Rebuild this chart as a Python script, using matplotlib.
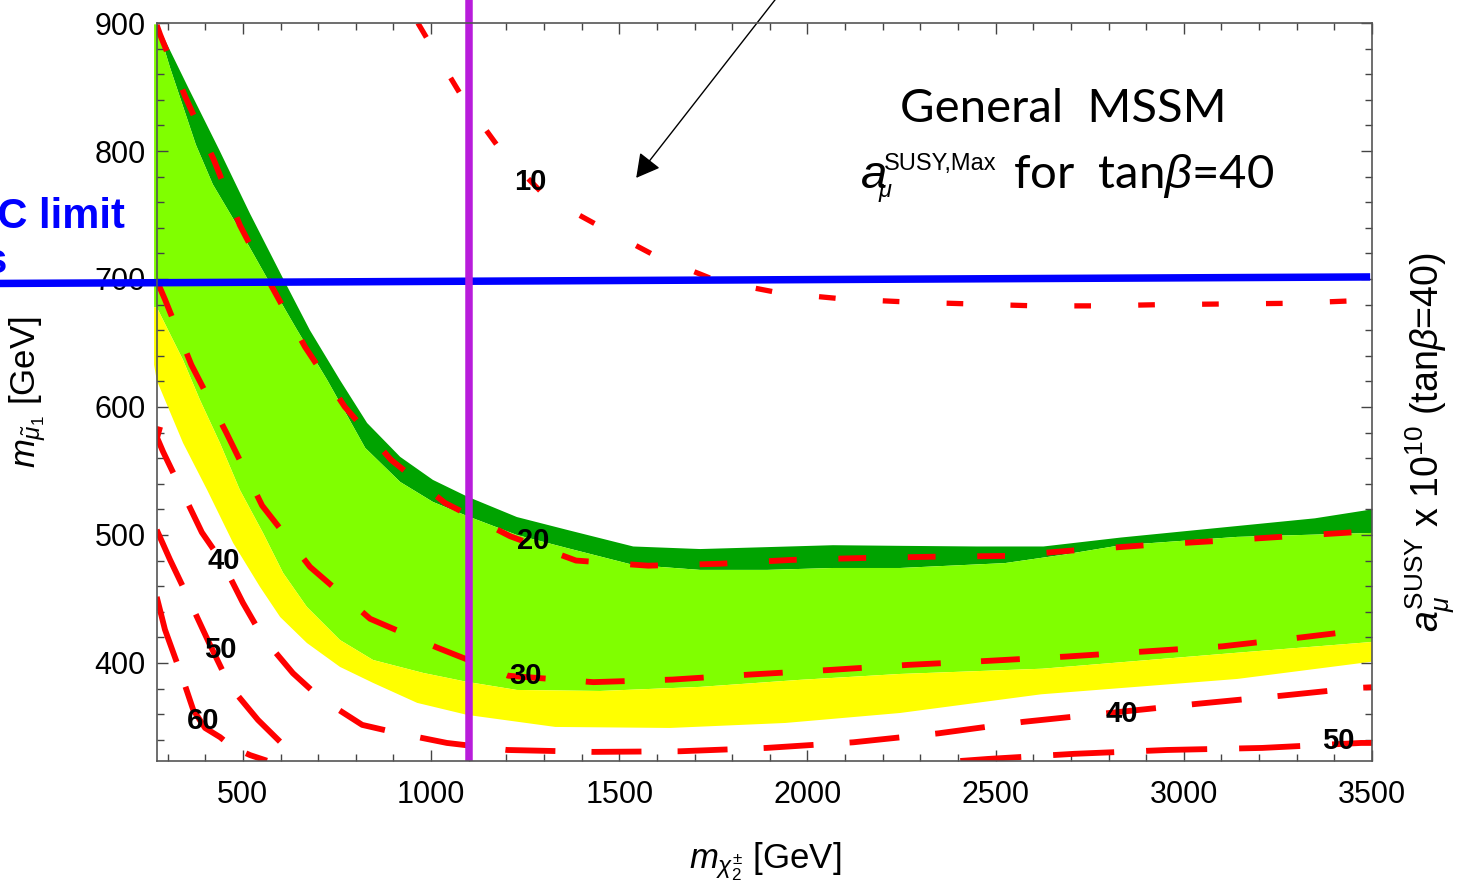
import matplotlib
matplotlib.use("Agg")
import matplotlib.pyplot as plt

plt.rcParams["font.family"] = ["Liberation Sans", "DejaVu Sans"]
plt.rcParams["mathtext.fontset"] = "custom"
plt.rcParams["mathtext.rm"] = "Liberation Sans"
plt.rcParams["mathtext.it"] = "Liberation Sans:italic"
plt.rcParams["mathtext.bf"] = "Liberation Sans:bold"
plt.rcParams["lines.scale_dashes"] = False

# ---- allowed bands (chargino mass, smuon mass) in GeV ----
dark_top_x = [271, 354, 437, 519, 604, 678, 758, 830, 918, 1005, 1096, 1228, 1361,
              1537, 1715, 1893, 2068, 2246, 2450, 2627, 2833, 3142, 3348, 3500]
dark_top_y = [900, 850, 801, 751, 702, 660, 621, 587.5, 561, 543, 530, 514, 504,
              491, 489, 490.5, 492, 491.5, 491, 491, 498, 507, 513, 520]

light_top_x = [271, 274.5, 306, 375, 420, 492, 567, 644, 724, 770, 825, 918, 1005,
               1096, 1228, 1361, 1537, 1715, 1893, 2068, 2246, 2524, 2678, 2833,
               3142, 3500]
light_top_y = [899, 896, 865.6, 805, 774, 738.3, 699.2, 660.2, 621.1, 597,
               568, 541.4, 525.8, 514.8, 500, 489.8, 476.6, 472.7, 472.7, 474.2,
               474.2, 478, 484.5, 492, 498.5, 501.6]

yellow_top_x = [271, 341, 386, 439, 492, 553.5, 607, 670, 758, 846, 979, 1096, 1228,
                1449, 1715, 1980, 2246, 2624, 3142, 3500]
yellow_top_y = [678, 636.7, 605.5, 571.9, 535.2, 501.6, 470.3, 443.8, 417.9, 402.3,
                392.2, 385.2, 378.9, 378.1, 381.3, 386.8, 391.4, 395.5, 408, 416.4]

yellow_bot_x = [271, 293, 341, 405, 474, 545.5, 599, 670, 758, 846, 963, 1096, 1330,
                1635, 1941, 2246, 2621, 3142, 3500]
yellow_bot_y = [621, 605.5, 571.9, 535.2, 493.8, 459.4, 435.9, 415.6, 396.9, 384.4,
                368.8, 359.4, 350, 349.2, 353.1, 360.9, 375.5, 387.5, 401]

# the scan region starts slightly left of the frame
scan_left_x = 264
scan_left_yellow_y = 633

# ---- contours of a_mu^SUSY x 10^10 ----
c10_x = [965, 1003, 1085, 1189, 1306, 1455, 1603, 1760, 1928, 2095, 2268, 2435,
         2605, 2775, 2945, 3116, 3286, 3454, 3500]
c10_y = [900, 881, 841, 799, 764, 740, 717, 698.5, 689, 684.4, 682, 680.5, 679, 679,
         680, 680.5, 681, 683, 683.5]

c20_x = [271, 280, 346, 423, 492, 577, 665, 771, 894, 1037, 1210, 1385, 1577, 1766,
         1957, 2146, 2334, 2525, 2711, 2900, 3092, 3283, 3500]
c20_y = [898.4, 891, 843, 793, 742, 694, 647, 600, 558.6, 525, 499, 480, 476, 477.5,
         480.5, 482, 483, 483.6, 488, 492, 495.4, 499, 503]

c30_x = [271, 293, 363, 455, 551, 678.5, 838, 1016, 1205, 1431, 1641, 1851, 2058,
         2268, 2478, 2688, 2898, 3103, 3313, 3500]
c30_y = [699, 684, 633, 580.5, 523, 475, 434.5, 412, 390, 385, 387, 391, 394.5,
         398.5, 401.6, 405, 409, 413, 420, 426.6]

c40_x = [280, 272, 288, 333, 391, 445, 500, 553, 633, 705, 817, 910, 1042, 1202,
         1431, 1662, 1891, 2122, 2348, 2574, 2805, 3033, 3259, 3461, 3500]
c40_y = [584.5, 576, 565, 537.5, 502, 479, 447, 420, 392, 372.7, 351.6, 345.3,
         337.5, 332, 330.5, 331, 333.6, 338, 345, 354, 361, 368, 374.4, 380.5, 381]

c50_left_x = [271, 306.5, 341, 408, 445, 485, 540, 599, 657]
c50_left_y = [504, 480.6, 459.4, 417, 394.5, 375, 355.5, 338.4, 323.6]
c50_right_x = [2406, 2480, 2709, 2956, 3208, 3471, 3500]
c50_right_y = [323.4, 325, 329, 332, 333.6, 337.5, 337.5]

c60_x = [271, 293, 341, 368, 399.5, 439.5, 471, 519, 564]
c60_y = [451.6, 426, 387, 363.4, 349.2, 342, 334.4, 328, 323.6]

contour_labels = ["10", "20", "30", "40", "50", "60", "40", "50"]
contour_label_x = [1263, 1272, 1252, 450, 440, 395, 2836, 3410]
contour_label_y = [776, 495, 389.6, 480, 410, 354.4, 360.3, 339]

# ---- LHC limits ----
chargino_limit = 1100
smuon_limit_x = [-160, 3495]
smuon_limit_y = [696.5, 701.6]

W, H = 1459, 889
fig = plt.figure(figsize=(W / 100, H / 100), dpi=100)
ax = fig.add_axes([0.1074, 0.1440, 0.8330, 0.8301])
ax.set_xlim(271, 3500)
ax.set_ylim(323.4, 900)


def fx(px):
    return px / W


def fy(py):
    return 1 - py / H


DARK = "#00A300"
LIGHT = "#80FF00"
YELLOW = "#FFFF00"

# bands drawn as closed polygons between boundaries
ax.fill(dark_top_x + light_top_x[::-1], dark_top_y + light_top_y[::-1],
        color=DARK, lw=0, zorder=1)
ax.fill(light_top_x + yellow_top_x[::-1] + [scan_left_x, scan_left_x],
        light_top_y + yellow_top_y[::-1] + [yellow_top_y[0], light_top_y[0]],
        color=LIGHT, lw=0, zorder=1, clip_on=False)
ax.fill(yellow_top_x + yellow_bot_x[::-1] + [scan_left_x, scan_left_x],
        yellow_top_y + yellow_bot_y[::-1] + [scan_left_yellow_y, yellow_top_y[0]],
        color=YELLOW, lw=0, zorder=1, clip_on=False)

RED = "#FF0000"
contours = [
    (c10_x, c10_y, (12, 34), 3.8),
    (c20_x, c20_y, (20, 30), 4.2),
    (c30_x, c30_y, (28, 29), 4.2),
    (c40_x, c40_y, (36, 26), 4.2),
    (c50_left_x, c50_left_y, (44, 23), 4.2),
    (c50_right_x, c50_right_y, (44, 23), 4.2),
    (c60_x, c60_y, (49, 19), 4.2),
]
for cx, cy, dash, lw in contours:
    ln, = ax.plot(cx, cy, color=RED, lw=lw, zorder=3)
    ln.set_dashes(dash)
    ln.set_dash_capstyle("butt")

for t, lx, ly in zip(contour_labels, contour_label_x, contour_label_y):
    ax.text(lx, ly, t, fontsize=21, fontweight="bold", color="black",
            ha="center", va="center", zorder=4)

# LHC limit lines extend beyond the frame
ax.plot(smuon_limit_x, smuon_limit_y, color="#0000FF", lw=5.4, zorder=5,
        clip_on=False, solid_capstyle="butt")
ax.plot([chargino_limit, chargino_limit], [323.4, 935], color="#B81CDB", lw=5.4,
        zorder=6, clip_on=False, solid_capstyle="butt")

ax.annotate("", xy=(1545, 779), xytext=(1956, 934),
            arrowprops=dict(arrowstyle="-|>,head_length=0.4,head_width=0.22",
                            color="black", lw=1.0, mutation_scale=36,
                            shrinkA=0, shrinkB=0),
            annotation_clip=False, zorder=7)

# axes styling
ax.set_xticks([500, 1000, 1500, 2000, 2500, 3000, 3500])
ax.set_xticks(range(300, 3500, 100), minor=True)
ax.set_yticks([400, 500, 600, 700, 800, 900])
ax.set_yticks(range(340, 900, 20), minor=True)
ax.tick_params(which="both", direction="in", top=True, right=True,
               color="#444444", width=1.0, labelsize=22)
ax.tick_params(which="major", length=8)
ax.tick_params(which="minor", length=5)
ax.tick_params(axis="x", pad=14)
ax.tick_params(axis="y", pad=8)
ax.tick_params(labelright=False, labeltop=False)
for s in ax.spines.values():
    s.set_color("#555555")
    s.set_linewidth(1.2)
    s.set_zorder(8)

fig.text(fx(765), fy(862), r"$m_{\chi^{\pm}_{2}}$ [GeV]", fontsize=25,
         ha="center", va="center")
fig.text(fx(28), fy(392), r"$m_{\tilde{\mu}_1}$ [GeV]", fontsize=25,
         ha="center", va="center", rotation=90)
fig.text(fx(1430), fy(442), r"$a_{\mu}^{\mathrm{SUSY}}$ x 10$^{10}$ (tan$\beta$=40)",
         fontsize=27, ha="center", va="center", rotation=90)

# title block
fig.text(fx(1063), fy(122), "General  MSSM", fontsize=34, family="Lato",
         ha="center", va="baseline")
fig.text(fx(861), fy(188), "a", fontsize=34, style="italic",
         ha="left", va="baseline")
fig.text(fx(884), fy(170), "SUSY,Max", fontsize=17, ha="left", va="baseline")
fig.text(fx(879), fy(197), "\u03bc", fontsize=17, style="italic",
         ha="left", va="baseline")
fig.text(fx(1013), fy(188), r"for  tan$\beta$=40", fontsize=34, family="Lato",
         ha="left", va="baseline")

fig.text(fx(125), fy(228), "LHC limit", fontsize=30, fontweight="bold",
         color="#0000FF", ha="right", va="baseline")
fig.text(fx(8), fy(273), "sleptons", fontsize=30, fontweight="bold",
         color="#0000FF", ha="right", va="baseline")

fig.savefig("out.png", dpi=100)
